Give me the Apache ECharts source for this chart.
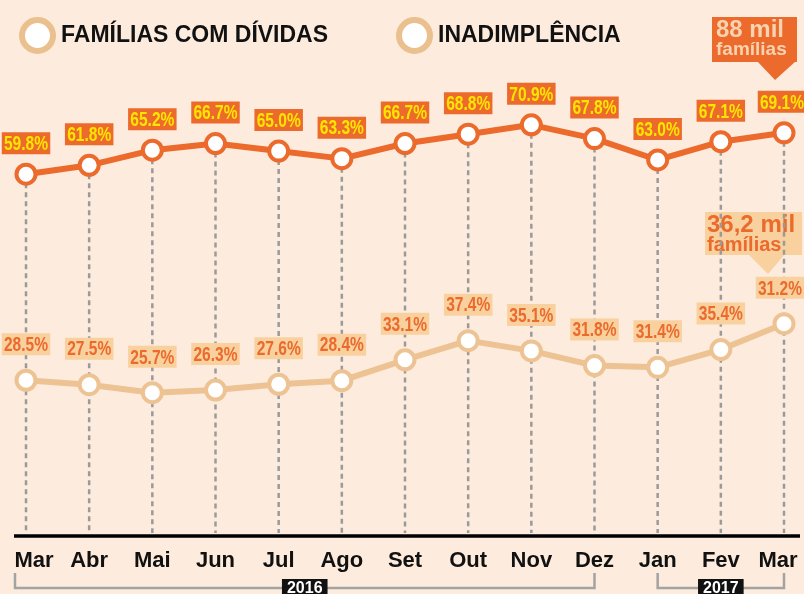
<!DOCTYPE html>
<html>
<head>
<meta charset="utf-8">
<script src="https://cdn.jsdelivr.net/npm/echarts@6/dist/echarts.min.js"></script>
<style>
  html, body { margin: 0; padding: 0; background: #FDECDD; }
  #chart { width: 804px; height: 594px; }
</style>
</head>
<body>
<div id="chart"></div>
<script>
var months = ['Mar', 'Abr', 'Mai', 'Jun', 'Jul', 'Ago', 'Set', 'Out', 'Nov', 'Dez', 'Jan', 'Fev', 'Mar'];
var dividas = [59.8, 61.8, 65.2, 66.7, 65.0, 63.3, 66.7, 68.8, 70.9, 67.8, 63.0, 67.1, 69.1];
// last point is drawn at ~41.2 in the source, but printed as 31.2%
var inadimplencia = [28.5, 27.5, 25.7, 26.3, 27.6, 28.4, 33.1, 37.4, 35.1, 31.8, 31.4, 35.4, 41.2];
var inadTexts = ['28.5%', '27.5%', '25.7%', '26.3%', '27.6%', '28.4%', '33.1%', '37.4%', '35.1%', '31.8%', '31.4%', '35.4%', '31.2%'];
var years = [{ text: '2016', from: 0, to: 9 }, { text: '2017', from: 10, to: 12 }];

var ORANGE = '#EB6A2C', TAN = '#EDC394', LABEL_BG = '#F8D19E', YELLOW = '#FFE500';
var sans = "'Liberation Sans', Arial, sans-serif";
var topMin = -21.5, topMax = 78.5, botMin = -6.5, botMax = 93.5;

var chart = echarts.init(document.getElementById('chart'));

var legendText = { fontSize: 23, fontWeight: 'bold', color: '#111', fontFamily: sans, padding: [0, 0, 0, 3] };
var legendIcon = { color: '#fff', borderColor: '#EBC08F', borderWidth: 6 };

// condensed value boxes: no narrow font installed, so squeeze a bold one
function boxLabels(texts, fill, bg, gap, lastShift) {
  return function(params, api) {
    var i = api.value(0);
    var p = api.coord([i, api.value(1)]);
    var last = i === texts.length - 1;
    return {
      type: 'text', x: p[0] + (last ? lastShift : 0), y: p[1] - gap, scaleX: 0.74,
      style: {
        text: texts[i], fill: fill, backgroundColor: bg, padding: [2, 3, 0, 3],
        font: 'bold 21px ' + sans, lineHeight: 20, align: 'center', verticalAlign: 'bottom'
      }
    };
  };
}

chart.setOption({
  backgroundColor: '#FDECDD',
  animation: false,
  legend: [
    { left: 14, top: 12, icon: 'circle', itemWidth: 31, itemHeight: 31, selectedMode: false,
      textStyle: legendText, itemStyle: legendIcon,
      data: [{ name: 'FAMÍLIAS COM DÍVIDAS', itemStyle: legendIcon }] },
    { left: 391, top: 12, icon: 'circle', itemWidth: 31, itemHeight: 31, selectedMode: false,
      textStyle: legendText, itemStyle: legendIcon,
      data: [{ name: 'INADIMPLÊNCIA', itemStyle: legendIcon }] }
  ],
  grid: { left: 26, right: 20, top: 91, bottom: 58 },
  xAxis: {
    type: 'category', data: months, boundaryGap: false,
    axisLine: { show: false }, axisTick: { show: false }, splitLine: { show: false },
    axisLabel: {
      interval: 0, margin: 14, color: '#111', fontSize: 22, fontWeight: 'bold', fontFamily: sans,
      formatter: function(v, i) {
        if (i === 0) return '{first|' + v + '}';
        if (i === months.length - 1) return '{last|' + v + '}';
        return v;
      },
      rich: {
        first: { fontSize: 22, fontWeight: 'bold', fontFamily: sans, color: '#111', padding: [0, 0, 0, 16] },
        last: { fontSize: 22, fontWeight: 'bold', fontFamily: sans, color: '#111', padding: [0, 12, 0, 0] }
      }
    }
  },
  yAxis: [
    { type: 'value', min: topMin, max: topMax, show: false },
    { type: 'value', min: botMin, max: botMax, show: false }
  ],
  series: [
    {
      type: 'custom', z: 1, silent: true, yAxisIndex: 0,
      data: dividas.map(function(v, i) { return [i, v]; }),
      renderItem: function(params, api) {
        var a = api.coord([api.value(0), api.value(1)]);
        var b = api.coord([api.value(0), topMin]);
        return { type: 'line', shape: { x1: a[0], y1: a[1], x2: b[0], y2: b[1] - 3 },
                 style: { stroke: '#9A9A9A', lineWidth: 2.5, lineDash: [5, 4] } };
      }
    },
    {
      name: 'INADIMPLÊNCIA', type: 'line', yAxisIndex: 1, z: 3,
      data: inadimplencia,
      symbol: 'circle', symbolSize: 19,
      lineStyle: { color: TAN, width: 6 },
      itemStyle: { color: '#fff', borderColor: TAN, borderWidth: 4 }
    },
    {
      name: 'FAMÍLIAS COM DÍVIDAS', type: 'line', yAxisIndex: 0, z: 4,
      data: dividas,
      symbol: 'circle', symbolSize: 19,
      lineStyle: { color: ORANGE, width: 6 },
      itemStyle: { color: '#fff', borderColor: ORANGE, borderWidth: 4 }
    },
    {
      type: 'custom', z: 5, silent: true, yAxisIndex: 1,
      data: inadimplencia.map(function(v, i) { return [i, v]; }),
      renderItem: boxLabels(inadTexts, ORANGE, LABEL_BG, 25, -4)
    },
    {
      type: 'custom', z: 5, silent: true, yAxisIndex: 0,
      data: dividas.map(function(v, i) { return [i, v]; }),
      renderItem: boxLabels(dividas.map(function(v) { return v.toFixed(1) + '%'; }), YELLOW, ORANGE, 20, -2)
    }
  ],
  graphic: [
    { type: 'line', shape: { x1: 14, y1: 536, x2: 800, y2: 536 }, style: { stroke: '#000', lineWidth: 3.5 } },
    // 88 mil famílias
    { type: 'rect', shape: { x: 712, y: 17, width: 85, height: 45 }, style: { fill: ORANGE } },
    { type: 'polygon', shape: { points: [[757, 61], [796, 61], [775, 80]] }, style: { fill: ORANGE } },
    { type: 'text', x: 716, y: 18, style: { text: '88 mil', fill: '#F9D3B0', font: 'bold 24px ' + sans } },
    { type: 'text', x: 716, y: 40, style: { text: 'famílias', fill: '#F9D3B0', font: 'bold 19px ' + sans } },
    // 36,2 mil famílias
    { type: 'rect', shape: { x: 705, y: 212, width: 97, height: 43 }, style: { fill: LABEL_BG } },
    { type: 'polygon', shape: { points: [[748, 254], [785, 254], [768, 274]] }, style: { fill: LABEL_BG } },
    { type: 'text', x: 707, y: 213, style: { text: '36,2 mil', fill: ORANGE, font: 'bold 24px ' + sans } },
    { type: 'text', x: 707, y: 235, style: { text: 'famílias', fill: ORANGE, font: 'bold 20px ' + sans } }
  ]
});

// year brackets under the month labels
var extra = [];
years.forEach(function(y) {
  var x1 = chart.convertToPixel({ xAxisIndex: 0 }, y.from);
  var x2 = chart.convertToPixel({ xAxisIndex: 0 }, y.to);
  if (y.from === 0) x1 = 15;
  extra.push({ type: 'polyline', shape: { points: [[x1, 573], [x1, 588], [x2, 588], [x2, 573]] },
               style: { stroke: '#A3A3A3', lineWidth: 2.5, fill: null } });
  extra.push({ type: 'text', x: (x1 + x2) / 2, y: 579,
               style: { text: y.text, fill: '#fff', backgroundColor: '#111', padding: [2, 5, 3, 5],
                        font: 'bold 16px ' + sans, align: 'center', verticalAlign: 'top' } });
});
chart.setOption({ graphic: extra.map(function(e, i) { e.id = 'yr' + i; return e; }) });
</script>
</body>
</html>
